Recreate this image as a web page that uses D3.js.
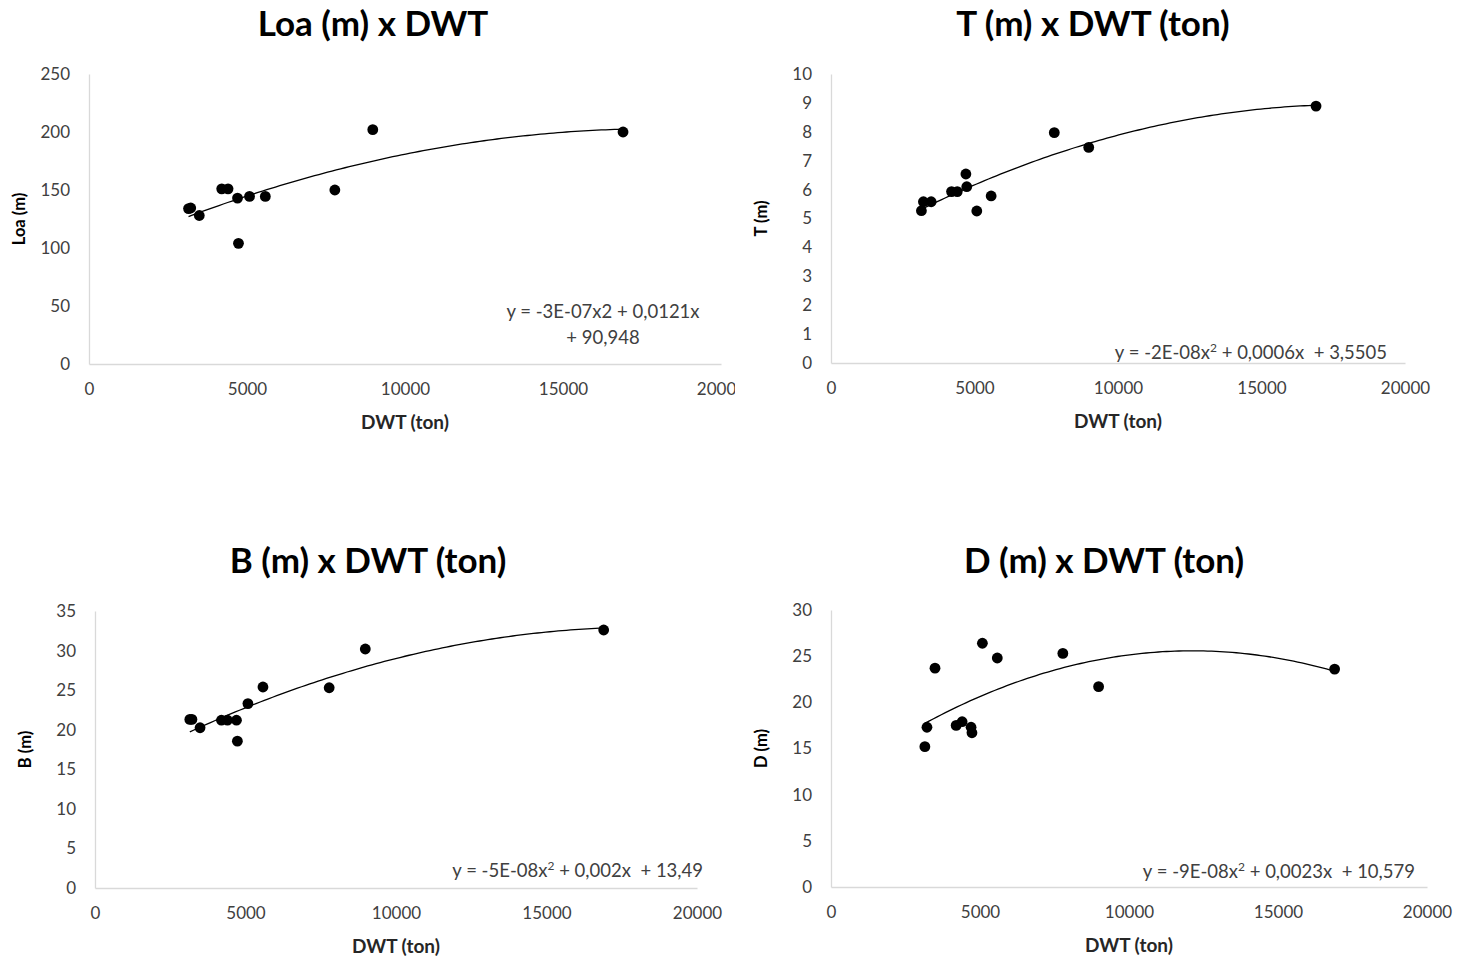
<!DOCTYPE html>
<html>
<head>
<meta charset="utf-8">
<script src="https://cdn.jsdelivr.net/npm/d3@7"></script>
<style>
  body { margin: 0; background: #fff; }
  text { font-family: Lato, "Open Sans", sans-serif; }
</style>
</head>
<body>
<script>
// ship data
const dwt = [3150, 3220, 3490, 4200, 4400, 4700, 4730, 5080, 5580, 7780, 8980, 16900];
const loa = [134, 134.5, 128, 151, 151, 143, 104, 144.5, 144.5, 150, 202, 200];
const draft = [5.27, 5.58, 5.58, 5.93, 5.93, 6.54, 6.1, 5.26, 5.78, 7.97, 7.46, 8.89];
const beam = [21.3, 21.3, 20.25, 21.2, 21.2, 21.2, 18.55, 23.3, 25.4, 25.3, 30.2, 32.6];
const depth = [15.2, 17.3, 23.7, 17.5, 17.9, 17.3, 16.7, 26.4, 24.8, 25.3, 21.7, 23.6];

const xTicks = [0, 5000, 10000, 15000, 20000];
const titles = ['Loa (m) x DWT', 'T (m) x DWT (ton)', 'B (m) x DWT (ton)', 'D (m) x DWT (ton)'];
const yLabels = ['Loa (m)', 'T (m)', 'B (m)', 'D (m)'];
const yTicks = [
  [0, 50, 100, 150, 200, 250],
  [0, 1, 2, 3, 4, 5, 6, 7, 8, 9, 10],
  [0, 5, 10, 15, 20, 25, 30, 35],
  [0, 5, 10, 15, 20, 25, 30]
];
const equations = [
  ['y = -3E-07x2 + 0,0121x', '+ 90,948'],
  ['y = -2E-08x\u00b2 + 0,0006x  + 3,5505'],
  ['y = -5E-08x\u00b2 + 0,002x  + 13,49'],
  ['y = -9E-08x\u00b2 + 0,0023x  + 10,579']
];

// panel layout (pixels)
const layout = [
  { x0: 89, x1: 721, yTop: 74, yBot: 364, titleX: 373, titleY: 36, clipR: 735, eqX: 603, eqY: 318, eqAnchor: 'middle' },
  { x0: 831, x1: 1405, yTop: 74, yBot: 363, titleX: 1093, titleY: 36, clipR: 1461, eqX: 1387, eqY: 359, eqAnchor: 'end' },
  { x0: 95, x1: 697, yTop: 611, yBot: 888, titleX: 368, titleY: 573, clipR: 735, eqX: 703, eqY: 877, eqAnchor: 'end' },
  { x0: 831, x1: 1427, yTop: 610, yBot: 887, titleX: 1104, titleY: 573, clipR: 1461, eqX: 1415, eqY: 878, eqAnchor: 'end' }
];
const series = [loa, draft, beam, depth];

// least squares quadratic, like the Excel trendline
function polyfit2(xs, ys) {
  const s = 10000;
  const S = [0, 0, 0, 0, 0], T = [0, 0, 0];
  xs.forEach((x, i) => {
    const u = x / s;
    for (let k = 0; k < 5; k++) S[k] += Math.pow(u, k);
    for (let k = 0; k < 3; k++) T[k] += ys[i] * Math.pow(u, k);
  });
  const M = [[S[0], S[1], S[2], T[0]], [S[1], S[2], S[3], T[1]], [S[2], S[3], S[4], T[2]]];
  for (let c = 0; c < 3; c++) {
    for (let r = c + 1; r < 3; r++) {
      const f = M[r][c] / M[c][c];
      for (let k = c; k < 4; k++) M[r][k] -= f * M[c][k];
    }
  }
  const b = [0, 0, 0];
  for (let r = 2; r >= 0; r--) {
    let v = M[r][3];
    for (let k = r + 1; k < 3; k++) v -= M[r][k] * b[k];
    b[r] = v / M[r][r];
  }
  return x => b[0] + b[1] * (x / s) + b[2] * (x / s) * (x / s);
}

const svg = d3.select('body').append('svg')
  .attr('width', 1461)
  .attr('height', 960);

layout.forEach((L, i) => {
  const ys = series[i];
  const yt = yTicks[i];

  const clipId = 'clip' + i;
  svg.append('clipPath').attr('id', clipId)
    .append('rect').attr('x', L.x0 - 100).attr('y', L.yTop - 80)
    .attr('width', L.clipR - L.x0 + 100).attr('height', L.yBot - L.yTop + 200);

  const g = svg.append('g').attr('clip-path', `url(#${clipId})`);

  const x = d3.scaleLinear().domain([0, 20000]).range([L.x0, L.x1]);
  const y = d3.scaleLinear().domain([0, yt[yt.length - 1]]).range([L.yBot, L.yTop]);

  // title
  g.append('text')
    .attr('x', L.titleX).attr('y', L.titleY)
    .attr('text-anchor', 'middle')
    .attr('font-size', '35px').attr('font-weight', 'bold')
    .attr('fill', '#000')
    .text(titles[i]);

  // axes
  const xAxis = g.append('g')
    .attr('transform', `translate(0,${L.yBot})`)
    .call(d3.axisBottom(x).tickValues(xTicks).tickSize(0).tickPadding(19).tickFormat(d3.format('d')));
  const yAxis = g.append('g')
    .attr('transform', `translate(${L.x0},0)`)
    .call(d3.axisLeft(y).tickValues(yt).tickSize(0).tickPadding(19).tickFormat(d3.format('d')));
  [xAxis, yAxis].forEach(a => {
    a.select('.domain').attr('stroke', '#d9d9d9').attr('stroke-width', 1.3);
    a.selectAll('text')
      .attr('font-family', 'Lato, sans-serif')
      .attr('font-size', '17px')
      .attr('fill', '#404040');
  });

  // axis titles
  g.append('text')
    .attr('x', (L.x0 + L.x1) / 2).attr('y', L.yBot + 65)
    .attr('text-anchor', 'middle')
    .attr('font-size', '19px').attr('font-weight', 'bold')
    .attr('fill', '#262626')
    .text('DWT (ton)');
  const lx = L.x0 - 64;
  g.append('text')
    .attr('transform', `translate(${lx},${(L.yTop + L.yBot) / 2}) rotate(-90)`)
    .attr('text-anchor', 'middle')
    .attr('font-size', '16.5px').attr('font-weight', 'bold')
    .attr('fill', '#000')
    .text(yLabels[i]);

  // trendline
  const fit = polyfit2(dwt, ys);
  const xs = d3.range(0, 101).map(k => d3.min(dwt) + (d3.max(dwt) - d3.min(dwt)) * k / 100);
  g.append('path')
    .datum(xs)
    .attr('fill', 'none')
    .attr('stroke', '#000')
    .attr('stroke-width', 1.3)
    .attr('d', d3.line().x(d => x(d)).y(d => y(fit(d))));

  // points
  g.selectAll('.pt')
    .data(dwt)
    .enter()
    .append('circle')
    .attr('cx', d => x(d))
    .attr('cy', (d, k) => y(ys[k]))
    .attr('r', 5.4)
    .attr('fill', '#000');

  // trendline equation, superscript drawn as a raised smaller 2
  equations[i].forEach((line, k) => {
    const t = g.append('text')
      .attr('x', L.eqX).attr('y', L.eqY + k * 26)
      .attr('text-anchor', L.eqAnchor)
      .attr('font-size', '18.5px')
      .attr('fill', '#404040')
      .style('white-space', 'pre');
    const parts = line.split('\u00b2');
    parts.forEach((p, j) => {
      if (j > 0) {
        t.append('tspan').attr('dy', -7).attr('font-size', '12px').text('2');
        t.append('tspan').attr('dy', 7).text(p);
      } else {
        t.append('tspan').text(p);
      }
    });
  });
});
</script>
</body>
</html>
